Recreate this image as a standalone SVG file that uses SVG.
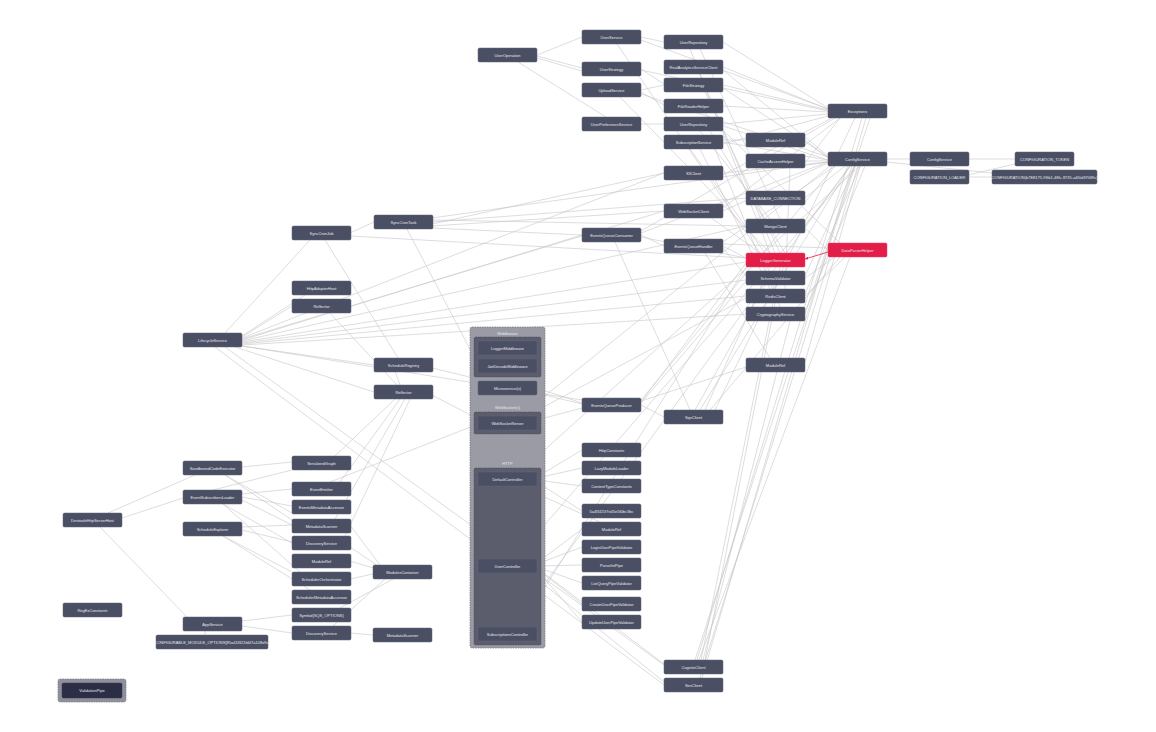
<svg xmlns="http://www.w3.org/2000/svg" width="1156" height="732" viewBox="0 0 1156 732">
<style>
.n rect{fill:#4b4f63;stroke:#60647a;stroke-width:0.5}
.n text,.lbl{font-family:"Liberation Sans",Arial,sans-serif;font-size:4px;fill:#e6e7ee;text-anchor:middle;dominant-baseline:central}
.hl rect{fill:#e11d48;stroke:#f04468}
#edges path{fill:none;stroke:#c6c6ca;stroke-width:0.6}
#edges path.red{stroke:#e11d48;stroke-width:0.8}
.outer{fill:#9a9ba4;stroke:#7d7e89;stroke-width:0.8;stroke-dasharray:1.5 1}
.inner{fill:#5b5d6d;stroke:#4a4c5a;stroke-width:0.6;stroke-dasharray:1.5 1}
</style>
<defs>
<marker id="ar" viewBox="0 0 6 6" refX="6" refY="3" markerWidth="4" markerHeight="4" orient="auto"><path d="M0 0L6 3L0 6z" fill="#e11d48"/></marker>
</defs>
<rect width="1156" height="732" fill="#ffffff"/>
<g id="edges">
<path d="M537 55L582 37"/><path d="M537 56L582 68"/><path d="M537 58L582 71"/><path d="M518 62L606 117"/>
<path d="M641 37L664 42"/><path d="M641 40L828 109"/><path d="M617 44L760 253"/>
<path d="M641 69L664 84"/><path d="M641 70L828 111"/>
<path d="M641 90L664 85"/><path d="M641 92L664 105"/><path d="M620 97L687 166"/><path d="M641 94L828 157"/>
<path d="M641 124L664 124"/>
<path d="M723 42L828 108"/><path d="M690 49L770 253"/><path d="M700 49L780 219"/>
<path d="M723 67L828 109"/><path d="M723 70L828 156"/><path d="M700 74L775 253"/>
<path d="M723 85L828 110"/><path d="M723 88L828 157"/><path d="M705 92L780 253"/>
<path d="M723 106L828 112"/><path d="M705 113L840 243"/>
<path d="M723 124L828 114"/><path d="M723 126L828 160"/><path d="M700 131L770 219"/><path d="M710 131L785 253"/>
<path d="M723 140L746 140"/><path d="M723 142L828 160"/><path d="M723 144L828 116"/><path d="M700 149L770 289"/><path d="M690 149L765 253"/><path d="M715 149L780 307"/>
<path d="M723 173L828 162"/><path d="M723 175L832 118"/><path d="M700 180L770 253"/>
<path d="M805 140L828 158"/><path d="M805 161L828 161"/><path d="M805 163L840 118"/><path d="M790 168L785 289"/>
<path d="M805 198L845 166"/><path d="M805 226L850 166"/><path d="M805 228L828 250"/>
<path d="M805 278L835 257"/><path d="M805 276L855 166"/><path d="M805 294L860 166"/><path d="M805 296L845 257"/><path d="M805 312L865 166"/><path d="M805 314L870 118"/>
<path d="M886 159L910 159"/><path d="M886 162L992 173"/><path d="M968 159L1015 159"/><path d="M968 175L1015 164"/><path d="M968 177L992 177"/>
<path d="M695 660L855 166"/><path d="M697 660L862 118"/><path d="M699 660L850 257"/><path d="M701 660L780 267"/><path d="M703 660L790 321"/><path d="M705 660L775 303"/>
<path d="M700 678L858 166"/><path d="M702 678Q760 480 866 118"/>
<path d="M700 410L850 166"/><path d="M705 410L770 267"/><path d="M710 410L840 257"/><path d="M695 410L765 285"/><path d="M715 410L855 118"/>
<path d="M641 405L664 417"/><path d="M641 402L746 263"/><path d="M641 400L835 166"/><path d="M641 403L746 281"/><path d="M641 401L746 367"/><path d="M805 362L860 166"/>
<path d="M537 388L582 403"/>
<path d="M537 420L582 408"/><path d="M527 416L746 298"/><path d="M520 416L830 166"/><path d="M432 395L478 419"/>
<path d="M537 477L582 450"/><path d="M537 478L582 468"/><path d="M537 480L582 486"/><path d="M537 482L582 511"/><path d="M520 486L600 522"/><path d="M520 472L860 166"/>
<path d="M537 563L582 529"/><path d="M537 564L582 547"/><path d="M537 566L582 565"/><path d="M537 567L582 583"/><path d="M537 569L582 604"/><path d="M537 570L582 622"/><path d="M515 559L856 166"/><path d="M537 568L664 664"/><path d="M530 573L664 682"/>
<path d="M513 627L850 166"/><path d="M520 627L746 267"/>
<path d="M641 235L664 246"/><path d="M641 233L828 162"/><path d="M641 237L746 258"/><path d="M641 231L835 118"/><path d="M615 242L690 410"/>
<path d="M723 246L746 258"/><path d="M723 244L828 248"/><path d="M723 248L746 276"/><path d="M723 242L835 166"/><path d="M705 253L770 358"/>
<path d="M723 211L828 163"/><path d="M710 217L760 253"/><path d="M723 208L840 118"/>
<path d="M350 233L374 222"/><path d="M350 236L746 258"/><path d="M325 240L398 358"/>
<path d="M432 218L828 162"/><path d="M432 220L746 226"/><path d="M432 222L746 198"/><path d="M432 224L664 173"/><path d="M432 226L664 211"/><path d="M432 228L582 235"/><path d="M407 229L505 416"/>
<path d="M225 333L310 240"/><path d="M242 336L305 295"/><path d="M242 337L292 306"/><path d="M242 338L664 173"/><path d="M242 339L664 211"/><path d="M242 340L582 235"/><path d="M242 341L746 226"/><path d="M242 342L746 262"/><path d="M242 343L746 280"/><path d="M242 344L746 296"/><path d="M242 345L746 314"/><path d="M242 346L582 400"/><path d="M242 346L374 365"/><path d="M235 347L374 392"/><path d="M225 347L664 665"/><path d="M215 347L664 685"/>
<path d="M330 313L397 385"/><path d="M432 368L582 404"/><path d="M395 371L400 385"/>
<path d="M395 399L335 456"/><path d="M400 399L340 482"/><path d="M405 399L335 519"/><path d="M410 399L345 536"/><path d="M330 482L478 424"/>
<path d="M108 513L195 475"/><path d="M122 518L183 498"/><path d="M100 527L187 617"/>
<path d="M242 467L292 462"/><path d="M225 475L292 513"/><path d="M225 475L292 520"/>
<path d="M242 494L292 489"/><path d="M242 497L292 506"/><path d="M242 500L292 525"/><path d="M213 490L292 470"/><path d="M223 504L292 543"/><path d="M223 504L300 572"/>
<path d="M242 527L292 525"/><path d="M242 530L292 542"/><path d="M223 536L292 572"/><path d="M223 536L310 590"/>
<path d="M350 525L380 565"/><path d="M350 547L378 566"/><path d="M350 561L373 568"/><path d="M350 579L373 574"/>
<path d="M242 621L292 615"/><path d="M242 626L292 633"/><path d="M205 631L205 635"/><path d="M350 633L373 635"/><path d="M340 608L393 579"/><path d="M333 626L385 579"/>
<path class="red" d="M828 252L805 259" marker-end="url(#ar)"/>
</g>
<g id="middleware-container">
<rect class="outer" x="470" y="327" width="75" height="321" rx="2"/>
<text class="lbl" x="507.5" y="333">Middleware</text>
<rect class="inner" x="474" y="337" width="67" height="40" rx="1.5"/>
<text class="lbl" x="507.5" y="407">WebSocket(s)</text>
<rect class="inner" x="474" y="412" width="67" height="22" rx="1.5"/>
<text class="lbl" x="507.5" y="463">HTTP</text>
<rect class="inner" x="474" y="468" width="67" height="177" rx="1.5"/>
</g>
<g id="n-useroperation" class="n"><rect x="478" y="48" width="59" height="14" rx="1.5"/><text x="507.5" y="55">UserOperation</text></g>
<g id="n-userservice" class="n"><rect x="582" y="30" width="59" height="14" rx="1.5"/><text x="611.5" y="37">UserService</text></g>
<g id="n-userstrategy" class="n"><rect x="582" y="62" width="59" height="14" rx="1.5"/><text x="611.5" y="69">UserStrategy</text></g>
<g id="n-uploadservice" class="n"><rect x="582" y="83" width="59" height="14" rx="1.5"/><text x="611.5" y="90">UploadService</text></g>
<g id="n-userpreferenceservice" class="n"><rect x="582" y="117" width="59" height="14" rx="1.5"/><text x="611.5" y="124">UserPreferenceService</text></g>
<g id="n-userrepository" class="n"><rect x="664" y="35" width="59" height="14" rx="1.5"/><text x="693.5" y="42">UserRepository</text></g>
<g id="n-realanalytics" class="n"><rect x="664" y="60" width="59" height="14" rx="1.5"/><text x="693.5" y="67">RealAnalyticsServiceClient</text></g>
<g id="n-filestrategy" class="n"><rect x="664" y="78" width="59" height="14" rx="1.5"/><text x="693.5" y="85">FileStrategy</text></g>
<g id="n-filereaderhelper" class="n"><rect x="664" y="99" width="59" height="14" rx="1.5"/><text x="693.5" y="106">FileReaderHelper</text></g>
<g id="n-userrepository2" class="n"><rect x="664" y="117" width="59" height="14" rx="1.5"/><text x="693.5" y="124">UserRepository</text></g>
<g id="n-subscriptionservice" class="n"><rect x="664" y="135" width="59" height="14" rx="1.5"/><text x="693.5" y="142">SubscriptionService</text></g>
<g id="n-s3client" class="n"><rect x="664" y="166" width="59" height="14" rx="1.5"/><text x="693.5" y="173">S3Client</text></g>
<g id="n-moduleref1" class="n"><rect x="746" y="133" width="59" height="14" rx="1.5"/><text x="775.5" y="140">ModuleRef</text></g>
<g id="n-cacheaccesshelper" class="n"><rect x="746" y="154" width="59" height="14" rx="1.5"/><text x="775.5" y="161">CacheAccessHelper</text></g>
<g id="n-exceptions" class="n"><rect x="828" y="104" width="59" height="14" rx="1.5"/><text x="857.5" y="111">Exceptions</text></g>
<g id="n-configservice1" class="n"><rect x="828" y="152" width="59" height="14" rx="1.5"/><text x="857.5" y="159">ConfigService</text></g>
<g id="n-configservice2" class="n"><rect x="910" y="152" width="59" height="14" rx="1.5"/><text x="939.5" y="159">ConfigService</text></g>
<g id="n-configloader" class="n"><rect x="910" y="170" width="59" height="14" rx="1.5"/><text x="939.5" y="177">CONFIGURATION_LOADER</text></g>
<g id="n-configtoken" class="n"><rect x="1015" y="152" width="59" height="14" rx="1.5"/><text x="1044.5" y="159">CONFIGURATION_TOKEN</text></g>
<g id="n-configuration" class="n"><rect x="992" y="170" width="105" height="14" rx="1.5"/><text x="1044.5" y="177">CONFIGURATION(b7E8175-9Sb1-48fc-8735-a4f0d37f4f9c)</text></g>
<g id="n-dbconnection" class="n"><rect x="746" y="191" width="59" height="14" rx="1.5"/><text x="775.5" y="198">DATABASE_CONNECTION</text></g>
<g id="n-websocketclient" class="n"><rect x="664" y="204" width="59" height="14" rx="1.5"/><text x="693.5" y="211">WebSocketClient</text></g>
<g id="n-mongoclient" class="n"><rect x="746" y="219" width="59" height="14" rx="1.5"/><text x="775.5" y="226">MongoClient</text></g>
<g id="n-eqconsumer" class="n"><rect x="582" y="228" width="59" height="14" rx="1.5"/><text x="611.5" y="235">EventsQueueConsumer</text></g>
<g id="n-eqhandler" class="n"><rect x="664" y="239" width="59" height="14" rx="1.5"/><text x="693.5" y="246">EventsQueueHandler</text></g>
<g id="n-dataparser" class="n hl"><rect x="828" y="243" width="59" height="14" rx="1.5"/><text x="857.5" y="250">DataParserHelper</text></g>
<g id="n-loggergen" class="n hl"><rect x="746" y="253" width="59" height="14" rx="1.5"/><text x="775.5" y="260">LoggerGenerator</text></g>
<g id="n-schemavalidator" class="n"><rect x="746" y="271" width="59" height="14" rx="1.5"/><text x="775.5" y="278">SchemaValidator</text></g>
<g id="n-redisclient" class="n"><rect x="746" y="289" width="59" height="14" rx="1.5"/><text x="775.5" y="296">RedisClient</text></g>
<g id="n-crypto" class="n"><rect x="746" y="307" width="59" height="14" rx="1.5"/><text x="775.5" y="314">CryptographyService</text></g>
<g id="n-moduleref2" class="n"><rect x="746" y="358" width="59" height="14" rx="1.5"/><text x="775.5" y="365">ModuleRef</text></g>
<g id="n-sqsclient" class="n"><rect x="664" y="410" width="59" height="14" rx="1.5"/><text x="693.5" y="417">SqsClient</text></g>
<g id="n-eqproducer" class="n"><rect x="582" y="398" width="59" height="14" rx="1.5"/><text x="611.5" y="405">EventsQueueProducer</text></g>
<g id="n-cognito" class="n"><rect x="664" y="660" width="59" height="14" rx="1.5"/><text x="693.5" y="667">CognitoClient</text></g>
<g id="n-ses" class="n"><rect x="664" y="678" width="59" height="14" rx="1.5"/><text x="693.5" y="685">SesClient</text></g>
<g id="n-synccronjob" class="n"><rect x="292" y="226" width="59" height="14" rx="1.5"/><text x="321.5" y="233">SyncCronJob</text></g>
<g id="n-synccrontask" class="n"><rect x="374" y="215" width="59" height="14" rx="1.5"/><text x="403.5" y="222">SyncCronTask</text></g>
<g id="n-httpadapterhost" class="n"><rect x="292" y="281" width="59" height="14" rx="1.5"/><text x="321.5" y="288">HttpAdapterHost</text></g>
<g id="n-reflector1" class="n"><rect x="292" y="299" width="59" height="14" rx="1.5"/><text x="321.5" y="306">Reflector</text></g>
<g id="n-lifecycle" class="n"><rect x="183" y="333" width="59" height="14" rx="1.5"/><text x="212.5" y="340">LifecycleService</text></g>
<g id="n-scheduleregistry" class="n"><rect x="374" y="358" width="59" height="14" rx="1.5"/><text x="403.5" y="365">ScheduleRegistry</text></g>
<g id="n-reflector2" class="n"><rect x="374" y="385" width="59" height="14" rx="1.5"/><text x="403.5" y="392">Reflector</text></g>
<g id="n-loggermw" class="n"><rect x="478" y="341" width="59" height="14" rx="1.5"/><text x="507.5" y="348">LoggerMiddleware</text></g>
<g id="n-jwtmw" class="n"><rect x="478" y="359" width="59" height="14" rx="1.5"/><text x="507.5" y="366">JwtDecodeMiddleware</text></g>
<g id="n-microservice" class="n"><rect x="478" y="381" width="59" height="14" rx="1.5"/><text x="507.5" y="388">Microservice(s)</text></g>
<g id="n-wsserver" class="n"><rect x="478" y="416" width="59" height="14" rx="1.5"/><text x="507.5" y="423">WebSocketServer</text></g>
<g id="n-defaultcontroller" class="n"><rect x="478" y="472" width="59" height="14" rx="1.5"/><text x="507.5" y="479">DefaultController</text></g>
<g id="n-usercontroller" class="n"><rect x="478" y="559" width="59" height="14" rx="1.5"/><text x="507.5" y="566">UserController</text></g>
<g id="n-subscriptionscontroller" class="n"><rect x="478" y="627" width="59" height="14" rx="1.5"/><text x="507.5" y="634">SubscriptionsController</text></g>
<g id="n-httpconstants" class="n"><rect x="582" y="443" width="59" height="14" rx="1.5"/><text x="611.5" y="450">HttpConstants</text></g>
<g id="n-lazymoduleloader" class="n"><rect x="582" y="461" width="59" height="14" rx="1.5"/><text x="611.5" y="468">LazyModuleLoader</text></g>
<g id="n-contenttype" class="n"><rect x="582" y="479" width="59" height="14" rx="1.5"/><text x="611.5" y="486">ContentTypeConstants</text></g>
<g id="n-hash" class="n"><rect x="582" y="504" width="59" height="14" rx="1.5"/><text x="611.5" y="511">5a4f1f21f7e45e5f0bc3bc</text></g>
<g id="n-moduleref3" class="n"><rect x="582" y="522" width="59" height="14" rx="1.5"/><text x="611.5" y="529">ModuleRef</text></g>
<g id="n-loginpipe" class="n"><rect x="582" y="540" width="59" height="14" rx="1.5"/><text x="611.5" y="547">LoginUserPipeValidator</text></g>
<g id="n-parseint" class="n"><rect x="582" y="558" width="59" height="14" rx="1.5"/><text x="611.5" y="565">ParseIntPipe</text></g>
<g id="n-listquery" class="n"><rect x="582" y="576" width="59" height="14" rx="1.5"/><text x="611.5" y="583">ListQueryPipeValidator</text></g>
<g id="n-createuser" class="n"><rect x="582" y="597" width="59" height="14" rx="1.5"/><text x="611.5" y="604">CreateUserPipeValidator</text></g>
<g id="n-updateuser" class="n"><rect x="582" y="615" width="59" height="14" rx="1.5"/><text x="611.5" y="622">UpdateUserPipeValidator</text></g>
<g id="n-sandboxed" class="n"><rect x="183" y="461" width="59" height="14" rx="1.5"/><text x="212.5" y="468">SandboxedCodeExecutor</text></g>
<g id="n-eventsubs" class="n"><rect x="183" y="490" width="59" height="14" rx="1.5"/><text x="212.5" y="497">EventSubscribersLoader</text></g>
<g id="n-devtools" class="n"><rect x="63" y="513" width="59" height="14" rx="1.5"/><text x="92.5" y="520">DevtoolsHttpServerHost</text></g>
<g id="n-scheduleexplorer" class="n"><rect x="183" y="522" width="59" height="14" rx="1.5"/><text x="212.5" y="529">ScheduleExplorer</text></g>
<g id="n-regex" class="n"><rect x="63" y="603" width="59" height="14" rx="1.5"/><text x="92.5" y="610">RegExConstants</text></g>
<g id="n-appservice" class="n"><rect x="183" y="617" width="59" height="14" rx="1.5"/><text x="212.5" y="624">AppService</text></g>
<g id="n-configurable" class="n"><rect x="156" y="635" width="112" height="14" rx="1.5"/><text x="212" y="642">CONFIGURABLE_MODULE_OPTIONS[85a41f321fd47a108e9c]</text></g>
<g id="n-serializedgraph" class="n"><rect x="292" y="456" width="59" height="14" rx="1.5"/><text x="321.5" y="463">SerializedGraph</text></g>
<g id="n-eventemitter" class="n"><rect x="292" y="482" width="59" height="14" rx="1.5"/><text x="321.5" y="489">EventEmitter</text></g>
<g id="n-eventsmeta" class="n"><rect x="292" y="500" width="59" height="14" rx="1.5"/><text x="321.5" y="507">EventsMetadataAccessor</text></g>
<g id="n-metadatascanner1" class="n"><rect x="292" y="519" width="59" height="14" rx="1.5"/><text x="321.5" y="526">MetadataScanner</text></g>
<g id="n-discovery1" class="n"><rect x="292" y="536" width="59" height="14" rx="1.5"/><text x="321.5" y="543">DiscoveryService</text></g>
<g id="n-moduleref4" class="n"><rect x="292" y="554" width="59" height="14" rx="1.5"/><text x="321.5" y="561">ModuleRef</text></g>
<g id="n-schedorch" class="n"><rect x="292" y="572" width="59" height="14" rx="1.5"/><text x="321.5" y="579">SchedulerOrchestrator</text></g>
<g id="n-schedmeta" class="n"><rect x="292" y="590" width="59" height="14" rx="1.5"/><text x="321.5" y="597">SchedulerMetadataAccessor</text></g>
<g id="n-sqsoptions" class="n"><rect x="292" y="608" width="59" height="14" rx="1.5"/><text x="321.5" y="615">Symbol(SQS_OPTIONS)</text></g>
<g id="n-discovery2" class="n"><rect x="292" y="626" width="59" height="14" rx="1.5"/><text x="321.5" y="633">DiscoveryService</text></g>
<g id="n-modulescontainer" class="n"><rect x="373" y="565" width="59" height="14" rx="1.5"/><text x="402.5" y="572">ModulesContainer</text></g>
<g id="n-metadatascanner2" class="n"><rect x="373" y="628" width="59" height="14" rx="1.5"/><text x="402.5" y="635">MetadataScanner</text></g>
<g id="n-validationpipe">
<rect x="58" y="679" width="68" height="23" rx="2" fill="#8f909b" stroke="#7d7e89" stroke-width="0.8" stroke-dasharray="1.5 1"/>
<rect x="62" y="683" width="60" height="15" rx="1.5" fill="#2b2e44" stroke="#3c3f55" stroke-width="0.5"/>
<text class="lbl" x="92" y="690.5">ValidationPipe</text>
</g>
</svg>
